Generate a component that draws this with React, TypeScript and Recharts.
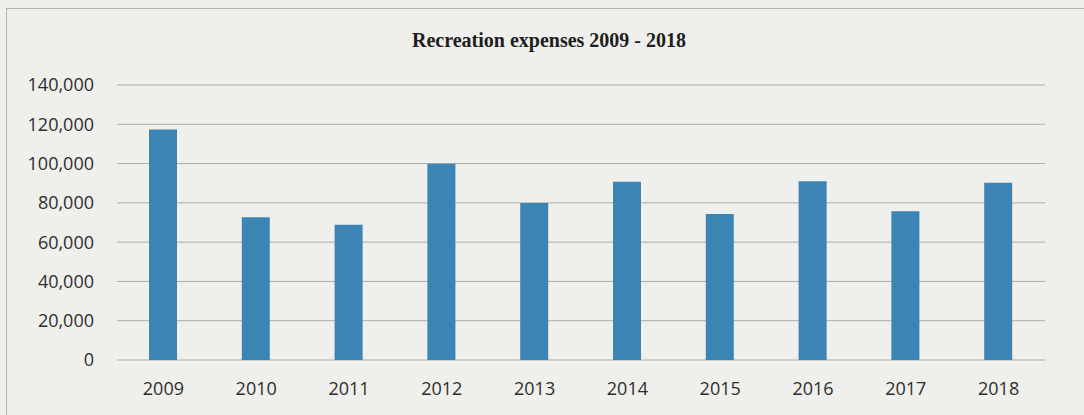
import React from "react";
import { BarChart, Bar, XAxis, YAxis, CartesianGrid } from "recharts";

const years = ["2009", "2010", "2011", "2012", "2013", "2014", "2015", "2016", "2017", "2018"];
const expenses = [117400, 72700, 68900, 99900, 79900, 90700, 74300, 91000, 75700, 90300];
const yTicks = [0, 20000, 40000, 60000, 80000, 100000, 120000, 140000];
const title = "Recreation expenses 2009 - 2018";

const data = years.map((y, i) => ({ year: y, value: expenses[i] }));

const fmt = (v: number) => v.toLocaleString("en-US");

export default function App() {
  return (
    <div
      style={{
        position: "absolute",
        left: 0,
        top: 0,
        width: 1084,
        height: 415,
        background: "#efefeb",
        overflow: "hidden",
      }}
    >
      <div
        style={{
          position: "absolute",
          left: 6,
          top: 8,
          width: 1100,
          height: 420,
          border: "1px solid #b4b4b0",
          boxSizing: "border-box",
        }}
      />
      <div
        style={{
          position: "absolute",
          left: 0,
          top: 30,
          width: 1098,
          textAlign: "center",
          fontFamily: "'Liberation Serif', 'Times New Roman', serif",
          fontWeight: "bold",
          fontSize: 20,
          lineHeight: "20px",
          color: "#1e1e1e",
        }}
      >
        {title}
      </div>
      <div style={{ position: "absolute", left: 0, top: 0 }}>
        <BarChart
          width={1084}
          height={415}
          data={data}
          margin={{ top: 85, right: 39, bottom: 0, left: 0 }}
          barSize={28}
        >
          <CartesianGrid vertical={false} stroke="#ababa9" strokeWidth={1} />
          <XAxis
            dataKey="year"
            axisLine={false}
            tickLine={false}
            tickMargin={16}
            height={55}
            interval={0}
            tick={{ fill: "#2e2e2e", fontSize: 18, fontFamily: "'Open Sans', sans-serif" }}
          />
          <YAxis
            domain={[0, 140000]}
            ticks={yTicks}
            width={117}
            axisLine={false}
            tickLine={false}
            tickMargin={17}
            tickFormatter={fmt}
            interval={0}
            tick={{ fill: "#2e2e2e", fontSize: 18, fontFamily: "'Open Sans', sans-serif" }}
          />
          <Bar dataKey="value" fill="#3c84b3" isAnimationActive={false} />
        </BarChart>
      </div>
    </div>
  );
}
